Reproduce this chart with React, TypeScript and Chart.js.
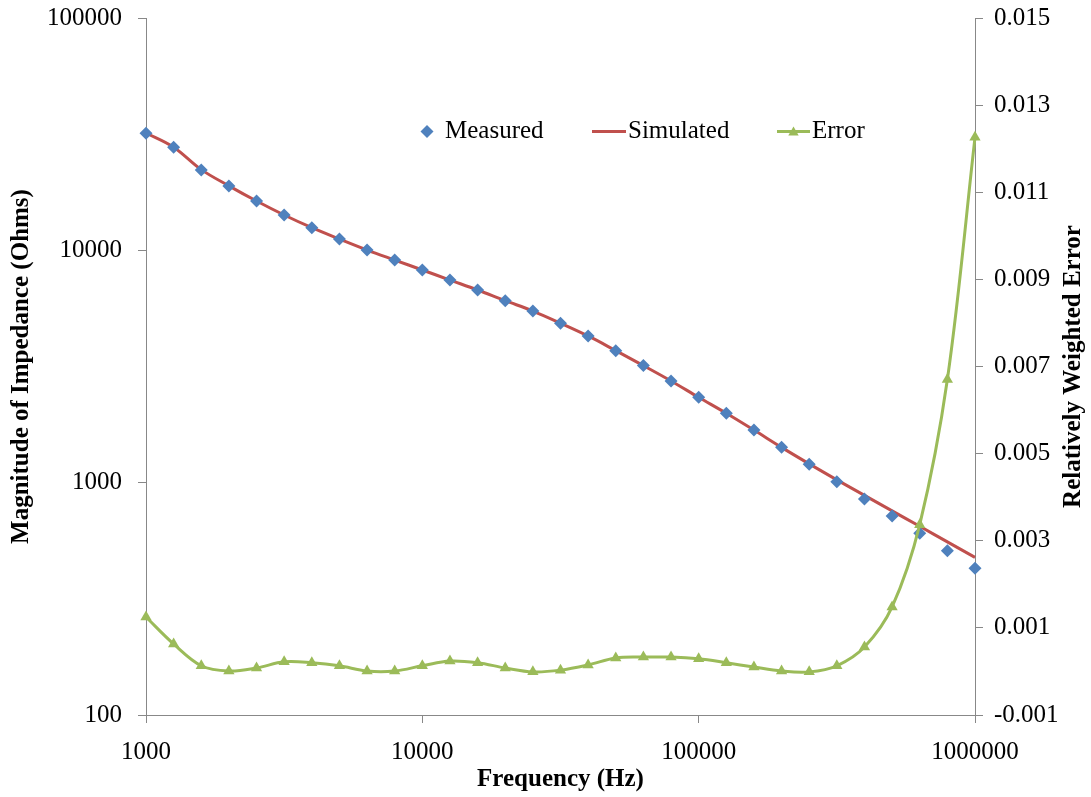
import { useEffect, useRef } from "react";
import { Chart, registerables } from "chart.js";

Chart.register(...registerables);

const frequencies = [
  1000, 1259, 1585, 1995, 2512, 3162, 3981, 5012, 6310, 7943,
  10000, 12589, 15849, 19953, 25119, 31623, 39811, 50119, 63096, 79433,
  100000, 125893, 158489, 199526, 251189, 316228, 398107, 501187, 630957, 794328,
  1000000,
];

const measuredImpedance = [
  31890, 27760, 22160, 18920, 16300, 14190, 12510, 11180, 10030, 9080,
  8230, 7450, 6750, 6070, 5480, 4860, 4280, 3700, 3190, 2740,
  2330, 1990, 1684, 1419, 1199, 1009, 850, 718, 605, 509,
  428,
];

const simulatedImpedance = [
  32000, 27800, 22250, 18950, 16300, 14190, 12510, 11180, 10030, 9080,
  8230, 7450, 6750, 6070, 5480, 4860, 4280, 3700, 3190, 2740,
  2330, 1990, 1684, 1419, 1205, 1028, 882, 756, 649, 556,
  477,
];

const relativeError = [
  0.00125, 0.00063, 0.00013, 0.00001, 0.00008, 0.00022, 0.0002, 0.00013, 0.00001, 0.00001,
  0.00013, 0.00024, 0.0002, 0.00008, -0.00001, 0.00003, 0.00015, 0.00031, 0.00033, 0.00033,
  0.00029, 0.0002, 0.0001, 0.00001, -0.00001, 0.00013, 0.00056, 0.00148, 0.00337, 0.0067,
  0.01226,
];

const xTicks = [1000, 10000, 100000, 1000000];
const yLeftTicks = [100, 1000, 10000, 100000];
const yRightTicks = [-0.001, 0.001, 0.003, 0.005, 0.007, 0.009, 0.011, 0.013, 0.015];

const seriesNames = ["Measured", "Simulated", "Error"];
const xTitle = "Frequency (Hz)";
const yLeftTitle = "Magnitude of Impedance (Ohms)";
const yRightTitle = "Relatively Weighted Error";

const FONT = "'Liberation Serif', 'Times New Roman', serif";
const BLUE = "#4F81BD";
const RED = "#C0504D";
const GREEN = "#9BBB59";
const AXIS = "#888888";

function drawDiamond(ctx: CanvasRenderingContext2D, x: number, y: number, r: number) {
  ctx.beginPath();
  ctx.moveTo(x - r, y);
  ctx.lineTo(x, y - r);
  ctx.lineTo(x + r, y);
  ctx.lineTo(x, y + r);
  ctx.closePath();
  ctx.fill();
}

function drawTriangle(ctx: CanvasRenderingContext2D, x: number, y: number, r: number) {
  ctx.beginPath();
  ctx.moveTo(x, y - r);
  ctx.lineTo(x + 0.866 * r, y + 0.5 * r);
  ctx.lineTo(x - 0.866 * r, y + 0.5 * r);
  ctx.closePath();
  ctx.fill();
}

const overlayPlugin = {
  id: "overlay",
  afterDraw(chart: any) {
    const { ctx, chartArea } = chart;
    // right axis title (reads bottom-to-top)
    ctx.save();
    ctx.font = `bold 25px ${FONT}`;
    ctx.fillStyle = "#000";
    ctx.textAlign = "center";
    ctx.textBaseline = "middle";
    ctx.translate(chart.width - 17, (chartArea.top + chartArea.bottom) / 2);
    ctx.rotate(-Math.PI / 2);
    ctx.fillText(yRightTitle, 0, 0);
    ctx.restore();

    // legend inside the plot area
    ctx.save();
    const x0 = chartArea.left + 281;
    const y0 = chartArea.top + 113.5;
    ctx.font = `25px ${FONT}`;
    ctx.fillStyle = "#000";
    ctx.textAlign = "left";
    ctx.textBaseline = "middle";

    // Measured
    ctx.fillStyle = BLUE;
    drawDiamond(ctx, x0, y0, 6.5);
    ctx.fillStyle = "#000";
    ctx.fillText(seriesNames[0], x0 + 18, y0);

    // Simulated
    ctx.strokeStyle = RED;
    ctx.lineWidth = 3;
    ctx.beginPath();
    ctx.moveTo(x0 + 165, y0);
    ctx.lineTo(x0 + 199, y0);
    ctx.stroke();
    ctx.fillText(seriesNames[1], x0 + 201, y0);

    // Error
    ctx.strokeStyle = GREEN;
    ctx.beginPath();
    ctx.moveTo(x0 + 350, y0);
    ctx.lineTo(x0 + 383, y0);
    ctx.stroke();
    ctx.fillStyle = GREEN;
    drawTriangle(ctx, x0 + 366.5, y0 + 1, 6);
    ctx.fillStyle = "#000";
    ctx.fillText(seriesNames[2], x0 + 385, y0);
    ctx.restore();
  },
};

export default function App() {
  const canvasRef = useRef<HTMLCanvasElement | null>(null);

  useEffect(() => {
    const canvas = canvasRef.current;
    if (!canvas) return;

    const toPoints = (vals: number[]) => frequencies.map((f, i) => ({ x: f, y: vals[i] }));

    const chart = new Chart(canvas, {
      type: "line",
      data: {
        datasets: [
          {
            label: seriesNames[2],
            data: toPoints(relativeError),
            yAxisID: "y1",
            borderColor: GREEN,
            backgroundColor: GREEN,
            borderWidth: 3,
            pointStyle: "triangle",
            pointRadius: 6.5,
            pointBorderWidth: 0,
            tension: 0.35,
            clip: false,
            order: 0,
          },
          {
            label: seriesNames[0],
            data: toPoints(measuredImpedance),
            yAxisID: "y",
            showLine: false,
            borderColor: BLUE,
            backgroundColor: BLUE,
            pointStyle: "rectRot",
            pointRadius: 6.5,
            pointBorderWidth: 0,
            clip: false,
            order: 1,
          },
          {
            label: seriesNames[1],
            data: toPoints(simulatedImpedance),
            yAxisID: "y",
            borderColor: RED,
            backgroundColor: RED,
            borderWidth: 3,
            pointRadius: 0,
            tension: 0.35,
            clip: false,
            order: 2,
          },
        ] as any,
      },
      options: {
        animation: false,
        responsive: false,
        devicePixelRatio: 1,
        layout: { padding: { top: 18, left: 0, right: 0, bottom: 0 } },
        plugins: {
          legend: { display: false },
          tooltip: { enabled: false },
        },
        scales: {
          x: {
            type: "logarithmic",
            position: "bottom",
            min: 1000,
            max: 1000000,
            afterBuildTicks: (scale: any) => {
              scale.ticks = xTicks.map((v) => ({ value: v }));
            },
            afterFit: (scale: any) => {
              scale.height = 82;
              scale.paddingLeft = 0;
              scale.paddingRight = 0;
            },
            ticks: {
              autoSkip: false,
              maxRotation: 0,
              padding: 14,
              color: "#000",
              font: { family: FONT, size: 25 },
              callback: (v: any) => String(v),
            },
            grid: { drawOnChartArea: false, drawTicks: true, tickLength: 8, color: AXIS },
            border: { display: true, color: AXIS, width: 1 },
            title: {
              display: true,
              text: xTitle,
              color: "#000",
              font: { family: FONT, size: 25, weight: "bold" },
              padding: { top: 0, bottom: 2 },
            },
          },
          y: {
            type: "logarithmic",
            position: "left",
            min: 100,
            max: 100000,
            afterBuildTicks: (scale: any) => {
              scale.ticks = yLeftTicks.map((v) => ({ value: v }));
            },
            afterFit: (scale: any) => {
              scale.width = 146;
              scale.paddingTop = 0;
              scale.paddingBottom = 0;
            },
            ticks: {
              autoSkip: false,
              padding: 16,
              color: "#000",
              font: { family: FONT, size: 25 },
              callback: (v: any) => String(v),
            },
            grid: { drawOnChartArea: false, drawTicks: true, tickLength: 8, color: AXIS },
            border: { display: true, color: AXIS, width: 1 },
            title: {
              display: true,
              text: yLeftTitle,
              color: "#000",
              font: { family: FONT, size: 25, weight: "bold" },
              padding: { top: 7, bottom: 0 },
            },
          },
          y1: {
            type: "linear",
            position: "right",
            min: -0.001,
            max: 0.015,
            afterBuildTicks: (scale: any) => {
              scale.ticks = yRightTicks.map((v) => ({ value: v }));
            },
            afterFit: (scale: any) => {
              scale.width = 116;
              scale.paddingTop = 0;
              scale.paddingBottom = 0;
            },
            ticks: {
              autoSkip: false,
              padding: 11,
              color: "#000",
              font: { family: FONT, size: 25 },
              callback: (v: any) => Number(v).toFixed(3),
            },
            grid: { drawOnChartArea: false, drawTicks: true, tickLength: 8, color: AXIS },
            border: { display: true, color: AXIS, width: 1 },
            title: { display: false },
          },
        },
      } as any,
      plugins: [overlayPlugin],
    });

    return () => {
      chart.destroy();
    };
  }, []);

  return (
    <div style={{ position: "fixed", left: 0, top: 0, width: 1091, height: 797, background: "#fff" }}>
      <canvas ref={canvasRef} width={1091} height={797} style={{ display: "block" }} />
    </div>
  );
}
